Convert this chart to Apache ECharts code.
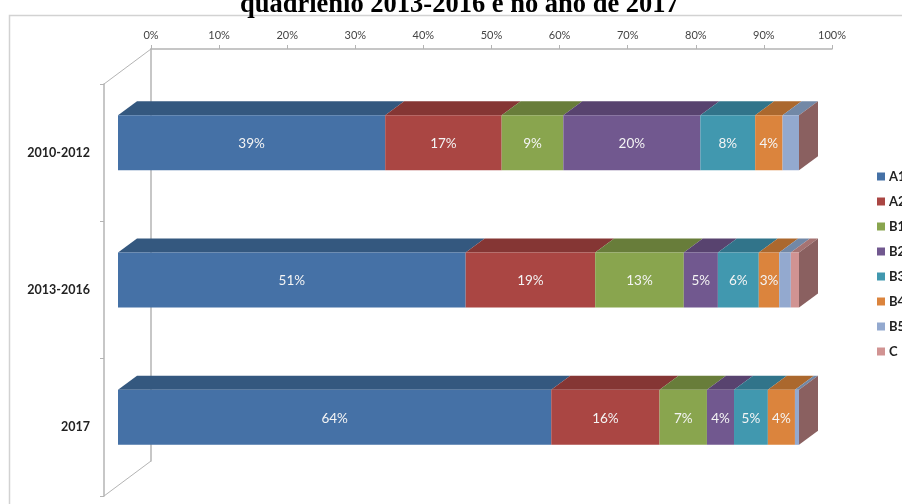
<!DOCTYPE html>
<html>
<head>
<meta charset="utf-8">
<script src="https://cdn.jsdelivr.net/npm/echarts@6/dist/echarts.min.js"></script>
<style>html,body{margin:0;padding:0;background:#fff;overflow:hidden}#chart{width:902px;height:504px}</style>
</head>
<body>
<div id="chart"></div>
<script>
const categories = ['2010-2012', '2013-2016', '2017'];
const seriesNames = ['A1', 'A2', 'B1', 'B2', 'B3', 'B4', 'B5', 'C'];
const tickStep = 10;

const A1 = [39, 51, 64];
const A2 = [17, 19, 16];
const B1 = [9, 13, 7];
const B2 = [20, 5, 4];
const B3 = [8, 6, 5];
const B4 = [4, 3, 4];
const B5 = [2.4, 1.7, 0.6];
const C = [0, 1.2, 0];

const seriesValues = [A1, A2, B1, B2, B3, B4, B5, C];
const frontColors = ['#4571A6', '#AA4643', '#89A54E', '#71588F', '#4198AF', '#DB843D', '#93A9CF', '#D19392'];
const topColors = ['#34587F', '#853634', '#687D3A', '#58436F', '#31748A', '#AB682E', '#7288A6', '#A57372'];
const sideColor = '#8A6060';
const gridLine = '#B4B4B4';

// 3D projection: the back wall sits behind the front plane by this offset,
// and each bar is inset into that depth.
const wallDepth = { x: 47, y: -35 };
const barInset = { x: 14, y: -10 };
const barDepth = { x: 19, y: -14 };
const barShare = 0.4;
const labelMinimum = 3;

const rowTotal = i => seriesValues.reduce((sum, s) => sum + s[i], 0);
const stackedBefore = (s, i) => seriesValues.slice(0, s).reduce((sum, v) => sum + v[i], 0);

function polygon(points, fill) {
  return { type: 'polygon', shape: { points }, style: { fill, stroke: null } };
}

// One stacked segment: front rectangle, top parallelogram, and for the last
// series the closing side face of the whole bar.
function renderSegment(seriesIndex) {
  return function (params, api) {
    const row = api.value(1);
    const total = rowTotal(row);
    const start = stackedBefore(seriesIndex, row) / total * 100;
    const end = start + api.value(0) / total * 100;
    const a = api.coord([start, row]);
    const b = api.coord([end, row]);
    const h = api.size([0, 1])[1] * barShare;
    const x0 = a[0] + barInset.x;
    const x1 = b[0] + barInset.x;
    const yTop = a[1] + barInset.y - h / 2;
    const yBot = yTop + h;
    const dx = barDepth.x;
    const dy = barDepth.y;
    const children = [];
    if (x1 > x0) {
      children.push(polygon([[x0, yTop], [x0 + dx, yTop + dy], [x1 + dx, yTop + dy], [x1, yTop]], topColors[seriesIndex]));
      children.push(polygon([[x0, yTop], [x1, yTop], [x1, yBot], [x0, yBot]], frontColors[seriesIndex]));
    }
    if (seriesIndex === seriesValues.length - 1) {
      children.push(polygon([[x1, yTop], [x1 + dx, yTop + dy], [x1 + dx, yBot + dy], [x1, yBot]], sideColor));
    }
    if (api.value(0) >= labelMinimum) {
      children.push({
        type: 'text',
        style: {
          text: api.value(0) + '%',
          x: (x0 + x1) / 2,
          y: (yTop + yBot) / 2 + 1,
          align: 'center',
          verticalAlign: 'middle',
          fill: '#F4F4F4',
          font: '13.5px Lato'
        }
      });
    }
    return { type: 'group', children };
  };
}

// Diagonal edges joining the front plane to the back wall.
function renderFloorEdges(params) {
  const r = params.coordSys;
  const edge = y => ({
    type: 'line',
    shape: { x1: r.x, y1: y, x2: r.x + wallDepth.x, y2: y + wallDepth.y },
    style: { stroke: gridLine, lineWidth: 1 }
  });
  return { type: 'group', children: [edge(r.y), edge(r.y + r.height)] };
}

const barSeries = seriesNames.map((name, s) => ({
  name,
  type: 'custom',
  xAxisIndex: 1,
  yAxisIndex: 1,
  coordinateSystem: 'cartesian2d',
  renderItem: renderSegment(s),
  itemStyle: { color: frontColors[s] },
  encode: { x: 0, y: 1 },
  z: 5,
  silent: true,
  data: seriesValues[s].map((v, i) => [v, i])
}));

const chart = echarts.init(document.getElementById('chart'), null, { renderer: 'canvas' });
chart.setOption({
  animation: false,
  backgroundColor: '#fff',
  color: frontColors,
  title: {
    text: 'quadriênio 2013-2016 e no ano de 2017',
    left: 235,
    top: -13,
    textStyle: { fontFamily: 'Liberation Serif', fontSize: 26.5, fontWeight: 'bold', color: '#000' }
  },
  legend: {
    data: seriesNames,
    orient: 'vertical',
    left: 877,
    top: 170,
    icon: 'rect',
    itemWidth: 8,
    itemHeight: 8,
    itemGap: 12,
    padding: 0,
    selectedMode: false,
    textStyle: { fontFamily: 'Lato', fontSize: 13, fontWeight: 'bold', color: '#222', padding: [0, 0, 0, -1] }
  },
  graphic: [{
    type: 'rect',
    z: -1,
    shape: { x: 9.5, y: 15.5, width: 1000, height: 600 },
    style: { fill: null, stroke: '#D2D2D2', lineWidth: 1.5 }
  }],
  grid: [
    { left: 151, top: 49, width: 681, height: 412 },
    { left: 104, top: 84, width: 681, height: 412 }
  ],
  xAxis: [
    {
      gridIndex: 0,
      type: 'value',
      position: 'top',
      min: 0,
      max: 100,
      interval: tickStep,
      splitLine: { show: false },
      axisLine: { show: true, lineStyle: { color: gridLine, width: 1.5 } },
      axisTick: { show: true, length: 4, lineStyle: { color: gridLine } },
      axisLabel: { formatter: '{value}%', fontFamily: 'Lato', fontSize: 11, color: '#444', margin: 8 }
    },
    { gridIndex: 1, type: 'value', min: 0, max: 100, show: false }
  ],
  yAxis: [
    {
      gridIndex: 0,
      type: 'category',
      inverse: true,
      data: categories,
      axisLine: { show: true, lineStyle: { color: gridLine, width: 1.5 } },
      axisTick: { show: false },
      axisLabel: { show: false }
    },
    {
      gridIndex: 1,
      type: 'category',
      inverse: true,
      data: categories,
      axisLine: { show: true, lineStyle: { color: gridLine, width: 1.5 } },
      axisTick: { show: true, length: 4, alignWithLabel: false, lineStyle: { color: gridLine } },
      axisLabel: { fontFamily: 'Lato', fontSize: 12.5, fontWeight: 'bold', color: '#222', margin: 14, padding: [0, 0, 3, 0] }
    }
  ],
  series: [
    {
      name: 'edges',
      type: 'custom',
      xAxisIndex: 1,
      yAxisIndex: 1,
      renderItem: renderFloorEdges,
      z: 1,
      silent: true,
      data: [[0, 0]]
    },
    ...barSeries
  ]
});
</script>
</body>
</html>
